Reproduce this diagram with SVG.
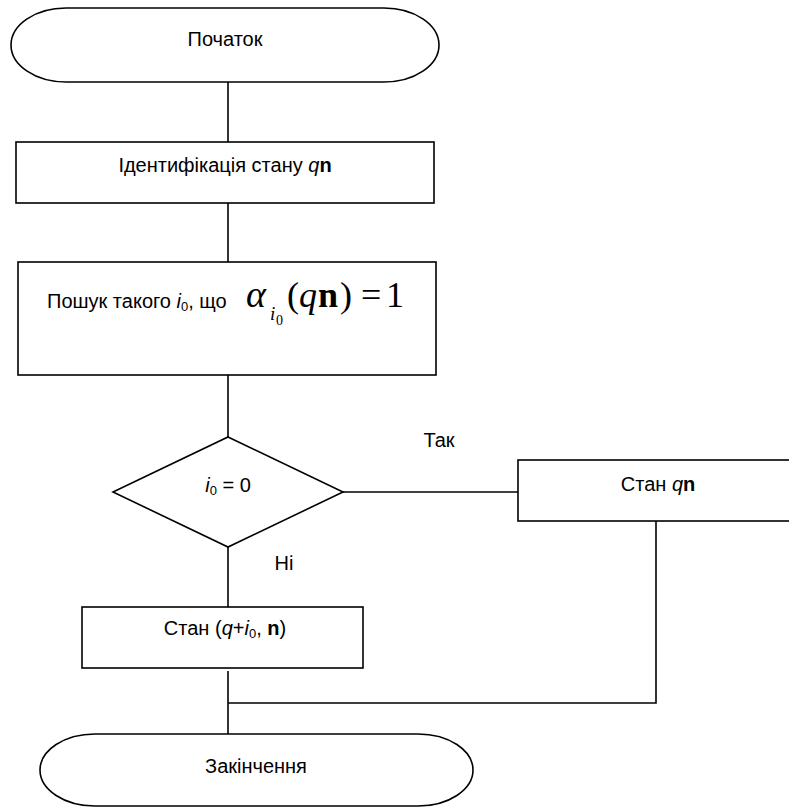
<svg xmlns="http://www.w3.org/2000/svg" width="789" height="807" viewBox="0 0 789 807">
<style>
.s{fill:#fff;stroke:#000;stroke-width:1.6}
.c{fill:none;stroke:#000;stroke-width:1.6}
.t{font-family:"Liberation Sans",Arial,sans-serif;font-size:20px;fill:#000}
.m{font-family:"Liberation Serif","Times New Roman",serif;fill:#000}
.i{font-style:italic}
.b{font-weight:bold}
</style>
<rect width="789" height="807" fill="#fff"/>
<g id="connectors">
<line class="c" x1="228" y1="82" x2="228" y2="142"/>
<line class="c" x1="228" y1="203" x2="228" y2="262"/>
<line class="c" x1="228" y1="375" x2="228" y2="437"/>
<line class="c" x1="343" y1="492" x2="518" y2="492"/>
<line class="c" x1="228" y1="547" x2="228" y2="607"/>
<polyline class="c" points="656,521 656,703 228,703"/>
<line class="c" x1="228" y1="671" x2="228" y2="734"/>
<text class="t" x="439" y="447" text-anchor="middle">Так</text>
<text class="t" x="284" y="570" text-anchor="middle">Ні</text>
</g>
<g id="start">
<path class="s" d="M66,8 H384 A55,37 0 0 1 384,82 H66 A55,37 0 0 1 66,8 Z"/>
<text class="t" x="225" y="46" text-anchor="middle">Початок</text>
</g>
<g id="identify">
<rect class="s" x="16" y="142" width="418" height="61"/>
<text class="t" x="225" y="172" text-anchor="middle">Ідентифікація стану <tspan class="i">q</tspan><tspan class="b">n</tspan></text>
</g>
<g id="search">
<rect class="s" x="18" y="262" width="418" height="113"/>
<text class="t" x="47" y="308">Пошук такого <tspan class="i">i</tspan><tspan font-size="13" dy="3">0</tspan><tspan dy="-3">, що</tspan></text>
<text class="m i" x="246" y="307" font-size="38">α</text>
<text class="m i" x="270" y="320" font-size="19">i</text>
<text class="m" x="276" y="325" font-size="14">0</text>
<text class="m" x="287" y="307" font-size="36">(</text>
<text class="m i" x="299" y="307" font-size="36">q</text>
<text class="m b" x="318" y="307" font-size="36">n</text>
<text class="m" x="340" y="307" font-size="36">)</text>
<text class="m" x="361" y="307" font-size="36">=</text>
<text class="m" x="386" y="307" font-size="36">1</text>
</g>
<g id="decision">
<polygon class="s" points="228,437 343,492 228,547 113,492"/>
<text class="t" x="228" y="492" text-anchor="middle"><tspan class="i">i</tspan><tspan font-size="13" dy="3">0</tspan><tspan dy="-3"> = 0</tspan></text>
</g>
<g id="state-yes">
<rect class="s" x="518" y="460" width="290" height="61"/>
<text class="t" x="658" y="491" text-anchor="middle">Стан <tspan class="i">q</tspan><tspan class="b">n</tspan></text>
</g>
<g id="state-no">
<rect class="s" x="82" y="607" width="281" height="61"/>
<text class="t" x="225" y="635" text-anchor="middle">Стан (<tspan class="i">q</tspan>+<tspan class="i">i</tspan><tspan font-size="13" dy="3">0</tspan><tspan dy="-3">, </tspan><tspan class="b">n</tspan>)</text>
</g>
<g id="end">
<path class="s" d="M95,734 H418 A55,36 0 0 1 418,806 H95 A55,36 0 0 1 95,734 Z"/>
<text class="t" x="256" y="773" text-anchor="middle">Закінчення</text>
</g>
</svg>
